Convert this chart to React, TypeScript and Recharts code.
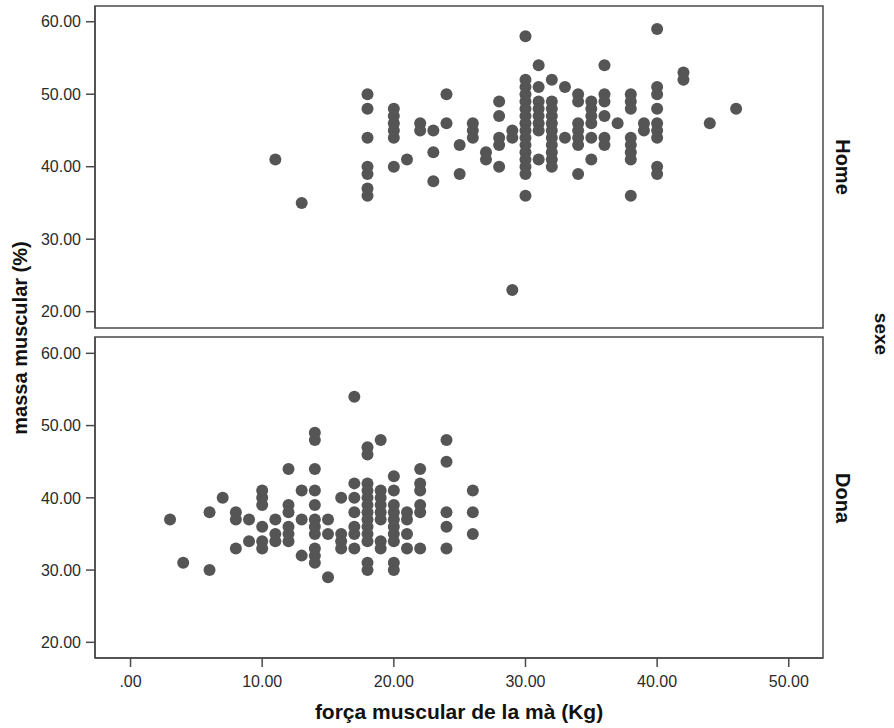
import { ScatterChart, Scatter, XAxis, YAxis, ReferenceArea } from 'recharts'

// força muscular (Kg) columns and the massa muscular (%) values stacked on each
const homeGrip = [11, 13, 18, 20, 21, 22, 23, 24, 25, 26, 27, 28, 29, 30, 31, 32, 33, 34, 35, 36, 37, 38, 39, 40, 42, 44, 46]
const homeMass = [
  [41], [35], [50, 48, 44, 40, 39, 37, 36], [48, 47, 46, 45, 44, 40], [41], [46, 45],
  [45, 42, 38], [50, 46], [43, 39], [46, 45, 44], [42, 41], [49, 47, 44, 43, 40], [45, 44, 23],
  [58, 52, 51, 50, 49, 48, 47, 46, 45, 44, 43, 42, 41, 40, 39, 36],
  [54, 51, 49, 48, 47, 46, 45, 41],
  [52, 49, 48, 47, 46, 45, 44, 43, 42, 41, 40],
  [51, 44], [50, 49, 46, 45, 44, 43, 39], [49, 48, 47, 46, 44, 41], [54, 50, 49, 47, 44, 43],
  [46], [50, 49, 48, 44, 43, 42, 41, 36], [46, 45], [59, 51, 50, 48, 46, 45, 44, 40, 39],
  [53, 52], [46], [48],
]

const donaGrip = [3, 4, 6, 7, 8, 9, 10, 11, 12, 13, 14, 15, 16, 17, 18, 19, 20, 21, 22, 24, 26]
const donaMass = [
  [37], [31], [38, 30], [40], [38, 37, 33], [37, 34], [41, 40, 39, 36, 34, 33], [37, 35, 34],
  [44, 39, 38, 36, 35, 34], [41, 37, 32], [49, 48, 44, 41, 39, 37, 36, 35, 33, 32, 31],
  [37, 35, 29], [40, 35, 34, 33], [54, 42, 40, 38, 36, 35, 33],
  [47, 46, 42, 41, 40, 39, 38, 37, 36, 35, 34, 31, 30],
  [48, 41, 40, 39, 38, 37, 34, 33], [43, 41, 39, 38, 37, 36, 35, 34, 31, 30],
  [38, 37, 35, 33], [44, 42, 41, 39, 38, 33], [48, 45, 38, 36, 33], [41, 38, 35],
]

const xTicks = [0, 10, 20, 30, 40, 50]
const yTicks = [20, 30, 40, 50, 60]
const xDomain: [number, number] = [-2.7, 52.6]
const homeYDomain: [number, number] = [17.75, 62.17]
const donaYDomain: [number, number] = [17.83, 62.26]

const toPoints = (grip: number[], mass: number[][]) =>
  grip.flatMap((g, i) => mass[i].map(m => ({ x: g, y: m })))

const homeData = toPoints(homeGrip, homeMass)
const donaData = toPoints(donaGrip, donaMass)

const INK = '#4a4a4a'
const DOT = '#555555'
const FONT = '"Liberation Sans", Arial, sans-serif'
const tickStyle = { fill: '#2b2b2b', fontSize: 16, fontFamily: FONT }

const fmtY = (v: number) => v.toFixed(2)
const fmtX = (v: number) => (v === 0 ? '.00' : v.toFixed(2))

const Dot = (p: any) => <circle cx={p.cx} cy={p.cy} r={6} fill={DOT} />

function Panel({ data, yDomain, showX, height, margin }: {
  data: { x: number; y: number }[]; yDomain: [number, number]; showX: boolean
  height: number; margin: { top: number; right: number; bottom: number; left: number }
}) {
  return (
    <ScatterChart width={894} height={height} margin={margin}>
      <XAxis type="number" dataKey="x" domain={xDomain} ticks={xTicks} allowDataOverflow
        hide={!showX} height={70} tickFormatter={fmtX} tick={tickStyle}
        axisLine={{ stroke: INK, strokeWidth: 1.5 }} tickLine={{ stroke: INK, strokeWidth: 1.5 }}
        tickSize={9} tickMargin={9} interval={0} />
      <YAxis type="number" dataKey="y" domain={yDomain} ticks={yTicks} allowDataOverflow
        width={90} tickFormatter={fmtY} tick={tickStyle}
        axisLine={{ stroke: INK, strokeWidth: 1.5 }} tickLine={{ stroke: INK, strokeWidth: 1.5 }}
        tickSize={9} tickMargin={5} interval={0} />
      <ReferenceArea x1={xDomain[0]} x2={xDomain[1]} y1={yDomain[0]} y2={yDomain[1]}
        fill="#ffffff" fillOpacity={0} stroke={INK} strokeWidth={1.5} />
      <Scatter data={data} shape={Dot} isAnimationActive={false} />
    </ScatterChart>
  )
}

export default function App() {
  const bold = { fontFamily: FONT, fontWeight: 700, fill: '#111' }
  return (
    <div style={{ position: 'absolute', left: 0, top: 0, width: 894, height: 728, background: '#fff' }}>
      <div style={{ position: 'absolute', left: 0, top: 0 }}>
        <Panel data={homeData} yDomain={homeYDomain} showX={false} height={333}
          margin={{ top: 6, right: 71, bottom: 5, left: 5 }} />
      </div>
      <div style={{ position: 'absolute', left: 0, top: 330 }}>
        <Panel data={donaData} yDomain={donaYDomain} showX height={398}
          margin={{ top: 7, right: 71, bottom: 0, left: 5 }} />
      </div>
      <svg width={894} height={728} style={{ position: 'absolute', left: 0, top: 0, pointerEvents: 'none' }}>
        <text x={27} y={338} transform="rotate(-90 27 338)" textAnchor="middle" fontSize={20} style={bold}>
          massa muscular (%)
        </text>
        <text x={459} y={719} textAnchor="middle" fontSize={21} style={bold}>
          força muscular de la mà (Kg)
        </text>
        <text x={836} y={167} transform="rotate(90 836 167)" textAnchor="middle" fontSize={20} style={bold}>
          Home
        </text>
        <text x={836} y={498} transform="rotate(90 836 498)" textAnchor="middle" fontSize={20} style={bold}>
          Dona
        </text>
        <text x={875} y={334} transform="rotate(90 875 334)" textAnchor="middle" fontSize={19} style={bold}>
          sexe
        </text>
      </svg>
    </div>
  )
}
